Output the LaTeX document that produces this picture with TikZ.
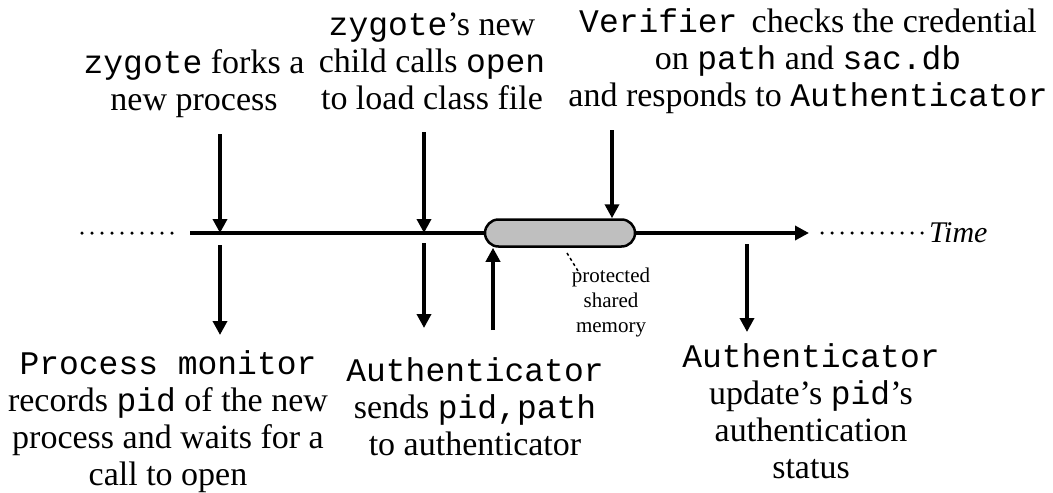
\documentclass[tikz,border=0pt]{standalone}
\usepackage{fontspec}
\setmainfont{Liberation Serif}
\setmonofont[Scale=0.97,FakeBold=-0.6]{Liberation Mono}
\usetikzlibrary{arrows.meta,shapes.misc}
% typewriter words inside the serif labels
\newcommand\mono[1]{{\ttfamily #1}}

\begin{document}
\begin{tikzpicture}[x=1pt,y=-1pt,
  txt/.style={align=center,inner sep=0pt,font=\fontsize{34}{37}\selectfont},
  small/.style={align=center,inner sep=0pt,font=\fontsize{21}{25}\selectfont},
  evt/.style={line width=3.5pt,-{Triangle[length=14pt,width=14pt]}},
  dots/.style={line width=3.5pt,line cap=round,dash pattern=on 0pt off 10pt},
  shm/.style={rounded rectangle,draw,line width=2.5pt,fill=black!25,
    minimum width=150pt,minimum height=27pt,inner sep=0pt}
]
\useasboundingbox (0,0) rectangle (1053,493);

% time axis
\coordinate (t0) at (190,233);
\coordinate (t1) at (809,233);
\coordinate (d0) at (82,233);
\coordinate (d1) at (182,233);
\coordinate (e0) at (822,233);
\coordinate (e1) at (925,233);
\draw[dots] (d0) -- (d1);
\draw[evt] (t0) -- (t1);
\draw[dots] (e0) -- (e1);
\node[anchor=base west,inner sep=0pt,font=\fontsize{30}{30}\selectfont\itshape] (time) at (929,242) {Time};

% shared memory region on the axis
\node[shm] (mem) at (560,233) {};
\node[small,anchor=north] (memlbl) at (611,268) {protected\\shared\\memory};
\coordinate (l0) at (567,253);
\coordinate (l1) at (578,271);
\draw[line width=1.5pt,dash pattern=on 3pt off 3pt] (l0) -- (l1);

% events above the axis
\node[txt,anchor=south] (fork) at (194,118) {\mono{zygote} forks a\\new process};
\node[txt,anchor=south] (open) at (432,110) {\mono{zygote}’s new\\child calls \mono{open}\\to load class file};
\node[txt,anchor=south] (verify) at (808,114) {\mono{Verifier} \,checks the credential\\on \mono{path} and \mono{sac.db}\\and responds to \mono{Authenticator}};

\coordinate (a1) at (220,134);
\coordinate (a2) at (424,132);
\coordinate (a3) at (612,130);
\draw[evt] (a1) -- (a1 |- t0);
\draw[evt] (a2) -- (a2 |- t0);
\draw[evt] (a3) -- (a3 |- mem.north);

% events below the axis
\node[txt,anchor=north] (monitor) at (168,350) {\mono{Process monitor}\\records \mono{pid} of the new\\process and waits for a\\call to open};
\node[txt,anchor=north] (send) at (475,357) {\mono{Authenticator}\\sends \mono{pid,path}\\to authenticator};
\node[txt,anchor=north] (update) at (811,343) {\mono{Authenticator}\\update’s \mono{pid}’s\\authentication\\status};

\coordinate (b1) at (220,245);
\coordinate (b2) at (424,243);
\coordinate (b3) at (493,330);
\coordinate (b4) at (747,244);
\draw[evt] (b1) -- ++(0,90);
\draw[evt] (b2) -- ++(0,85);
\draw[evt] (b3) -- (b3 |- mem.south);
\draw[evt] (b4) -- ++(0,88);
\end{tikzpicture}
\end{document}
